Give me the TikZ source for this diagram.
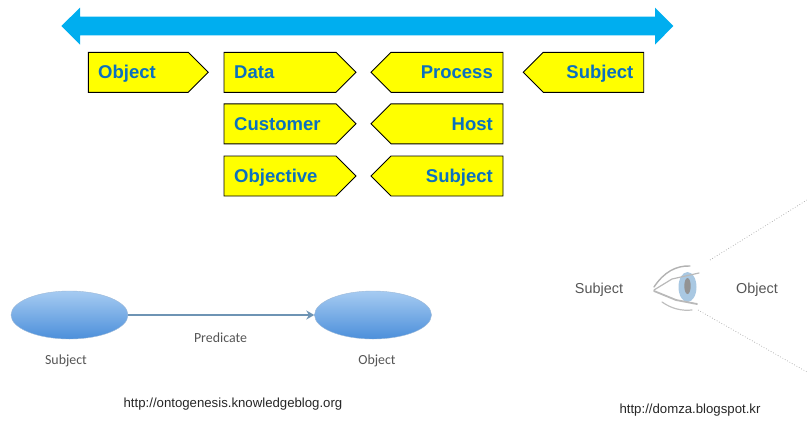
\documentclass[tikz,border=0pt]{standalone}
\usepackage{fontspec}
\setmainfont{Liberation Sans}
\newfontfamily\softfont{Carlito}
\usetikzlibrary{arrows.meta,shapes.geometric}
\definecolor{tagblue}{RGB}{11,112,190}
\definecolor{tagyellow}{RGB}{255,255,0}
\definecolor{barblue}{RGB}{0,174,239}
\definecolor{softtext}{RGB}{85,85,85}
\definecolor{linkline}{RGB}{110,148,180}
\definecolor{blobtop}{RGB}{166,203,242}
\definecolor{blobbot}{RGB}{76,143,218}
\definecolor{blobedge}{RGB}{157,185,216}
\definecolor{iris}{RGB}{169,200,226}
\tikzset{
  x=1pt,y=-1pt,
  tag/.style={draw=black,line width=0.9pt,fill=tagyellow,line join=miter},
  taglabel/.style={font=\bfseries\fontsize{18.5}{20}\selectfont,text=tagblue,inner sep=0pt},
  blob/.style={ellipse,minimum width=117pt,minimum height=48pt,inner sep=0pt,draw=blobedge,line width=0.4pt,top color=blobtop,bottom color=blobbot},
  softlabel/.style={font=\softfont\fontsize{13.9}{15}\selectfont,text=softtext,inner sep=0pt},
  eyelabel/.style={font=\fontsize{14.4}{16}\selectfont,text=softtext,inner sep=0pt},
  urllabel/.style={font=\fontsize{13.2}{15}\selectfont,text=black!85,inner sep=0pt},
  sight/.style={draw=gray!70,line width=0.7pt,dotted},
  lid/.style={line cap=round,line join=round}
}
\newcommand{\rtag}[3]{\draw[tag] (#1,#3) -- (#2-20,#3) -- (#2,#3+20) -- (#2-20,#3+40) -- (#1,#3+40) -- cycle;}
\newcommand{\ltag}[3]{\draw[tag] (#2,#3) -- (#1+20,#3) -- (#1,#3+20) -- (#1+20,#3+40) -- (#2,#3+40) -- cycle;}
\begin{document}
\begin{tikzpicture}
\useasboundingbox (0,0) rectangle (807,421);
\fill[barblue] (61.3,26) -- (80,7.7) -- (80,16.7) -- (655,16.7) -- (655,7.7) -- (673.3,26) -- (655,44.7) -- (655,35.3) -- (80,35.3) -- (80,44.7) -- cycle;
\rtag{88.3}{208.3}{52.3}
\rtag{224}{356}{52.3}
\rtag{224}{356}{103.8}
\rtag{224}{356}{156}
\ltag{371}{503}{52.3}
\ltag{371}{503}{103.8}
\ltag{371}{503}{156}
\ltag{523.3}{643.7}{52.3}
\node[taglabel,anchor=base west] (t1) at (98,78.7) {Object};
\node[taglabel,anchor=base west] (t2) at (234,78.7) {Data};
\node[taglabel,anchor=base west] (t3) at (234,130.5) {Customer};
\node[taglabel,anchor=base west] (t4) at (234,182.7) {Objective};
\node[taglabel,anchor=base east] (t5) at (493,78.7) {Process};
\node[taglabel,anchor=base east] (t6) at (493,130.5) {Host};
\node[taglabel,anchor=base east] (t7) at (493,182.7) {Subject};
\node[taglabel,anchor=base east] (t8) at (633.5,78.7) {Subject};
% left graph
\node[blob] (subj) at (69.5,315) {};
\node[blob] (obj) at (373,315) {};
\draw[linkline,line width=2pt,-{Stealth[length=8pt,width=9pt]}] (subj) -- (obj);
\node[softlabel] (p) at (220.5,337.5) {Predicate};
\node[softlabel] (ls) at (66,360.5) {Subject};
\node[softlabel] (lo) at (377,360.5) {Object};
\node[urllabel] (u1) at (233,404) {http://ontogenesis.knowledgeblog.org};
% eye graphic
\node[eyelabel] (es) at (599,290) {Subject};
\node[eyelabel] (eo) at (757,290) {Object};
\coordinate (a1) at (710,260);
\coordinate (a2) at (807,200);
\coordinate (b1) at (698,310);
\coordinate (b2) at (807,372);
\draw[sight] (a1) -- (a2);
\draw[sight] (b1) -- (b2);
\fill[iris] (687.5,287) ellipse [x radius=9,y radius=15];
\fill[gray!85] (687.5,286) ellipse [x radius=3.2,y radius=8];
\draw[lid,gray!60,line width=1.4pt] (654,287) .. controls (664,272) and (676,265.5) .. (690,266);
\draw[lid,gray!55,line width=1.2pt] (654,290) -- (672,279) -- (699,273);
\draw[lid,gray!55,line width=1.8pt] (654,291) -- (676,300) -- (697,304);
\draw[lid,gray!50,line width=1.2pt] (662,302) .. controls (672,309) and (682,311) .. (692,310);
\node[urllabel] (u2) at (690,410.5) {http://domza.blogspot.kr};
\end{tikzpicture}
\end{document}
